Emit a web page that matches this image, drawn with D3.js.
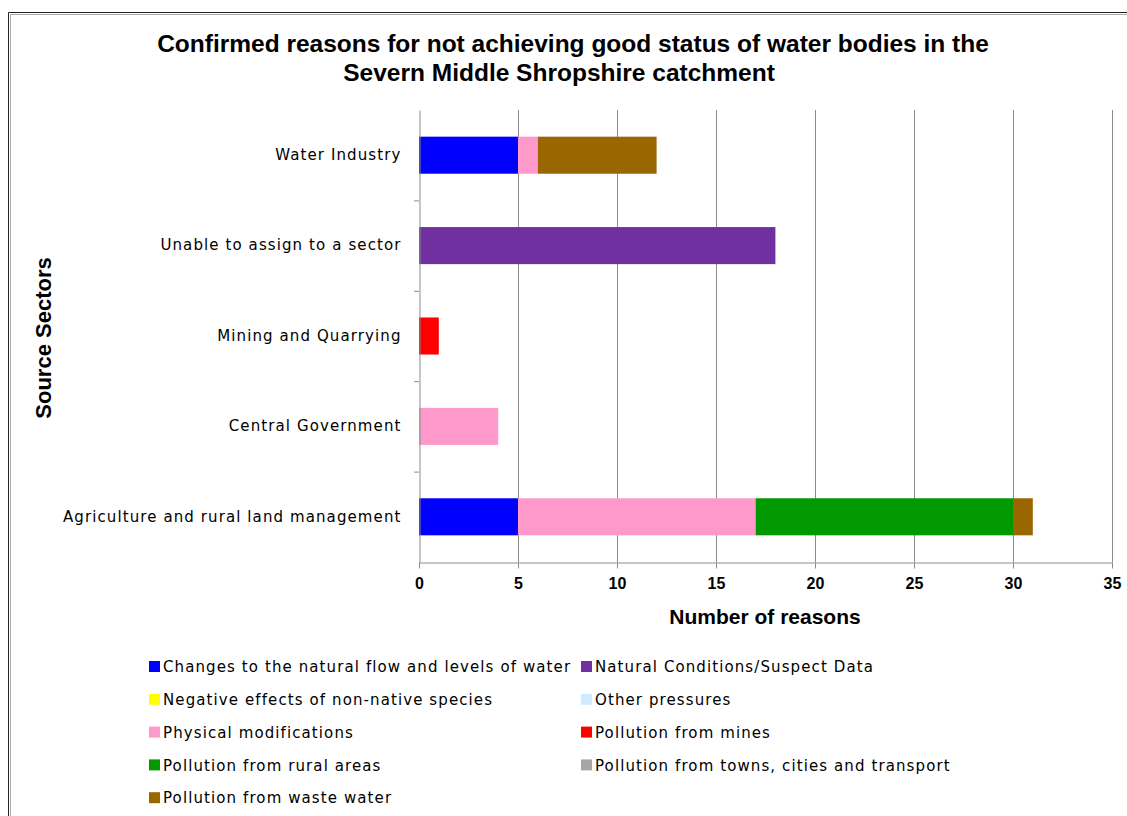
<!DOCTYPE html>
<html>
<head>
<meta charset="utf-8">
<script src="https://cdnjs.cloudflare.com/ajax/libs/d3/7.8.5/d3.min.js"></script>
<style>
  body { margin: 0; background: #fff; }
  svg { display: block; }
</style>
</head>
<body>
<svg id="chart" width="1127" height="816"></svg>
<script>
    "use strict";

    // sectors, bottom to top as in the picture
    var sectors = ["Agriculture and rural land management", "Central Government",
        "Mining and Quarrying", "Unable to assign to a sector", "Water Industry"];

    var seriesNames = [
        "Changes to the natural flow and levels of water",
        "Natural Conditions/Suspect Data",
        "Negative effects of non-native species",
        "Other pressures",
        "Physical modifications",
        "Pollution from mines",
        "Pollution from rural areas",
        "Pollution from towns, cities and transport",
        "Pollution from waste water"
    ];
    var seriesColors = ["#0000ff", "#7030a0", "#ffff00", "#cdeaff", "#ff99cc",
        "#ff0000", "#009900", "#a6a6a6", "#996600"];

    // values per series, in the order of sectors
    var changesFlow   = [5, 0, 0, 0, 5];
    var naturalCond   = [0, 0, 0, 18, 0];
    var nonNative     = [0, 0, 0, 0, 0];
    var otherPress    = [0, 0, 0, 0, 0];
    var physicalMods  = [12, 4, 0, 0, 1];
    var mines         = [0, 0, 1, 0, 0];
    var ruralAreas    = [13, 0, 0, 0, 0];
    var townsCities   = [0, 0, 0, 0, 0];
    var wasteWater    = [1, 0, 0, 0, 6];

    var xTicks = [0, 5, 10, 15, 20, 25, 30, 35];

    var seriesValues = [changesFlow, naturalCond, nonNative, otherPress, physicalMods,
        mines, ruralAreas, townsCities, wasteWater];

    (function () {
    var rows = sectors.map(function (s, i) {
        var row = { sector: s };
        seriesNames.forEach(function (n, k) { row[n] = seriesValues[k][i]; });
        return row;
    });

    var svg = d3.select("#chart");
    var boldFont = "'Liberation Sans', Arial, sans-serif";
    var labelFont = "'DejaVu Sans', Tahoma, sans-serif";

    // outer frame
    svg.append("path")
        .attr("d", "M8.5,816 L8.5,12.5 L1127,12.5")
        .attr("fill", "none").attr("stroke", "#222").attr("stroke-width", 1);
    svg.append("path")
        .attr("d", "M10.5,816 L10.5,14.5 L1127,14.5")
        .attr("fill", "none").attr("stroke", "#aaa").attr("stroke-width", 1);

    var plotLeft = 419, plotRight = 1112, plotTop = 110, plotBottom = 562;

    var x = d3.scaleLinear().domain([0, 35]).range([plotLeft, plotRight]);
    var y = d3.scaleBand().domain(sectors.slice().reverse()).range([plotTop, plotBottom]).paddingInner(0.59).paddingOuter(0.295);
    var yOuter = d3.scaleBand().domain(sectors.slice().reverse()).range([plotTop, plotBottom]);

    // title
    svg.append("text")
        .attr("x", 573).attr("y", 52).attr("text-anchor", "middle")
        .style("font-family", boldFont)
        .style("font-weight", "bold").style("font-size", "24.5px")
        .text("Confirmed reasons for not achieving good status of water bodies in the");
    svg.append("text")
        .attr("x", 559).attr("y", 81).attr("text-anchor", "middle")
        .style("font-family", boldFont)
        .style("font-weight", "bold").style("font-size", "24.5px")
        .text("Severn Middle Shropshire catchment");

    // vertical gridlines
    svg.append("g").selectAll("line")
        .data(xTicks.slice(1))
        .join("line")
        .attr("x1", function (d) { return x(d) + 0.5; })
        .attr("x2", function (d) { return x(d) + 0.5; })
        .attr("y1", plotTop).attr("y2", plotBottom)
        .attr("stroke", "#8c8c8c").attr("stroke-width", 1);

    // stacked bars
    var stack = d3.stack().keys(seriesNames);
    var layers = stack(rows);

    svg.append("g").selectAll("g")
        .data(layers)
        .join("g")
        .attr("fill", function (d, i) { return seriesColors[i]; })
        .selectAll("rect")
        .data(function (d) { return d.filter(function (p) { return p[1] > p[0]; }); })
        .join("rect")
        .attr("x", function (d) { return x(d[0]); })
        .attr("width", function (d) { return x(d[1]) - x(d[0]); })
        .attr("y", function (d) { return y(d.data.sector); })
        .attr("height", y.bandwidth());

    // x axis
    var xAxis = svg.append("g")
        .attr("transform", "translate(0," + (plotBottom + 0.5) + ")")
        .call(d3.axisBottom(x).tickValues(xTicks).tickSize(6).tickSizeOuter(0));
    xAxis.select(".domain").attr("stroke", "#8c8c8c");
    xAxis.selectAll(".tick line").attr("stroke", "#8c8c8c");
    xAxis.selectAll(".tick text")
        .attr("dy", "1.1em")
        .style("font-family", boldFont)
        .style("font-weight", "bold").style("font-size", "16px").attr("fill", "#000");

    // y axis
    var yAxis = svg.append("g")
        .attr("transform", "translate(" + (plotLeft + 0.5) + ",0)")
        .call(d3.axisLeft(yOuter).tickSize(0).tickPadding(18));
    yAxis.select(".domain").attr("stroke", "#8c8c8c");
    yAxis.selectAll(".tick text")
        .style("font-family", labelFont)
        .style("font-size", "15px").style("letter-spacing", "1.1px").attr("fill", "#000");
    // tick marks at category boundaries
    svg.append("g").selectAll("line")
        .data(sectors.slice(1))
        .join("line")
        .attr("x1", plotLeft - 5).attr("x2", plotLeft)
        .attr("y1", function (d) { return yOuter(d) + yOuter.bandwidth() + 0.5; })
        .attr("y2", function (d) { return yOuter(d) + yOuter.bandwidth() + 0.5; })
        .attr("stroke", "#8c8c8c");

    // axis titles
    svg.append("text")
        .attr("x", 765).attr("y", 624).attr("text-anchor", "middle")
        .style("font-family", boldFont)
        .style("font-weight", "bold").style("font-size", "21px")
        .text("Number of reasons");
    svg.append("text")
        .attr("transform", "translate(51,338) rotate(-90)")
        .attr("text-anchor", "middle")
        .style("font-family", boldFont)
        .style("font-weight", "bold").style("font-size", "22px")
        .text("Source Sectors");

    // legend
    var legend = svg.append("g");
    var items = legend.selectAll("g")
        .data(seriesNames)
        .join("g")
        .attr("transform", function (d, i) {
            var col = i % 2, row = Math.floor(i / 2);
            return "translate(" + (col === 0 ? 149 : 581) + "," + (667 + row * 32.8) + ")";
        });
    items.append("rect")
        .attr("x", 0).attr("y", -6).attr("width", 11).attr("height", 11)
        .attr("fill", function (d, i) { return seriesColors[i]; });
    items.append("text")
        .attr("x", 14).attr("y", 0).attr("dy", "0.35em")
        .style("font-family", labelFont)
        .style("font-size", "15px").style("letter-spacing", "1.1px")
        .text(function (d) { return d; });
    })();
</script>
</body>
</html>
